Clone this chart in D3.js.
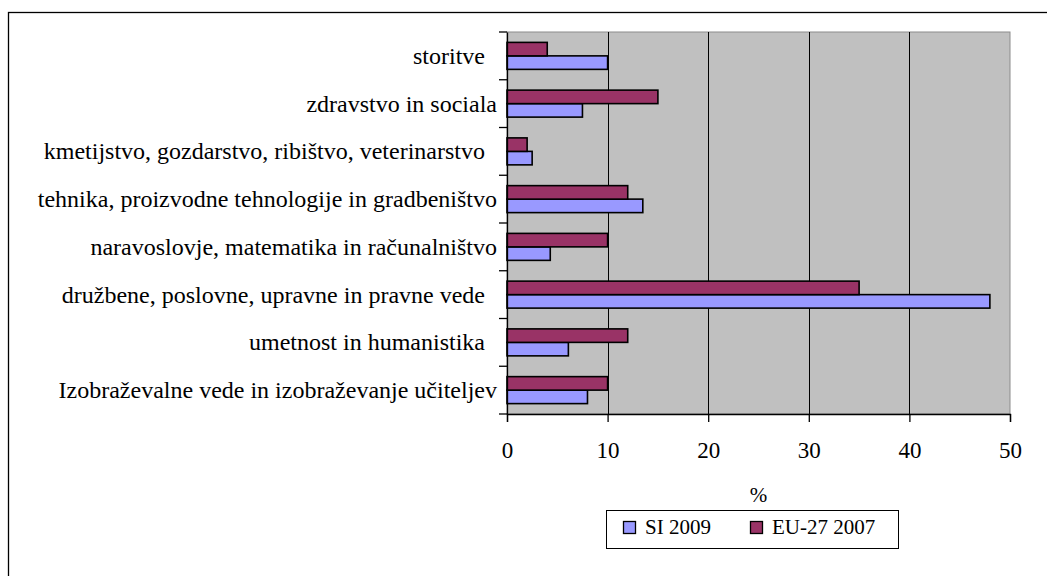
<!DOCTYPE html>
<html>
<head>
<meta charset="utf-8">
<script src="https://cdn.jsdelivr.net/npm/d3@7"></script>
<style>
  html, body { margin: 0; padding: 0; background: #fff; }
  svg { display: block; }
</style>
</head>
<body>
<svg id="chart" width="1047" height="576"></svg>
<script>
// Study fields (top to bottom as drawn)
const categories = [
  "storitve  ",
  "zdravstvo in sociala",
  "kmetijstvo, gozdarstvo, ribištvo, veterinarstvo  ",
  "tehnika, proizvodne tehnologije in gradbeništvo",
  "naravoslovje, matematika in računalništvo",
  "družbene, poslovne, upravne in pravne vede  ",
  "umetnost in humanistika  ",
  "Izobraževalne vede in izobraževanje učiteljev"
];
// Share of graduates by field, %
const si2009 = [10, 7.5, 2.5, 13.5, 4.3, 48, 6.1, 8];
const eu2007 = [4, 15, 2, 12, 10, 35, 12, 10];
const seriesNames = ["SI 2009", "EU-27 2007"];
const seriesColors = ["#9999FF", "#993366"];
const xTicks = [0, 10, 20, 30, 40, 50];
const axisTitle = "%";

const FONT = '"Liberation Serif"';
const svg = d3.select("#chart");
const plot = { left: 507, right: 1010, top: 32, bottom: 414 };

// outer frame of the chart object
svg.append("rect")
  .attr("x", 8.5).attr("y", 12.5)
  .attr("width", 1100).attr("height", 700)
  .attr("fill", "#fff").attr("stroke", "#000").attr("stroke-width", 1.3);

const x = d3.scaleLinear().domain([0, 50]).range([plot.left, plot.right]);
const y = d3.scaleBand().domain(categories).range([plot.top, plot.bottom]).padding(0);
// EU bar above SI bar inside each band
const ySub = d3.scaleBand().domain([1, 0]).range([0, y.bandwidth()])
  .paddingInner(0).paddingOuter(0.77);

// plot background
svg.append("rect")
  .attr("x", plot.left).attr("y", plot.top)
  .attr("width", plot.right - plot.left).attr("height", plot.bottom - plot.top)
  .attr("fill", "#C0C0C0").attr("stroke", "#8c8c8c").attr("stroke-width", 1);

// vertical gridlines
svg.append("g").selectAll("line")
  .data(xTicks.filter(t => t > 0 && t < 50))
  .join("line")
  .attr("x1", d => Math.round(x(d)) + 0.5).attr("x2", d => Math.round(x(d)) + 0.5)
  .attr("y1", plot.top).attr("y2", plot.bottom)
  .attr("stroke", "#000").attr("stroke-width", 1);

// bars
const groups = svg.append("g").selectAll("g")
  .data(categories.map((c, i) => ({ c, vals: [si2009[i], eu2007[i]] })))
  .join("g")
  .attr("transform", d => `translate(0,${y(d.c)})`);

groups.selectAll("rect")
  .data(d => d.vals.map((v, s) => ({ v, s })))
  .join("rect")
  .attr("x", x(0))
  .attr("y", d => ySub(d.s))
  .attr("width", d => x(d.v) - x(0))
  .attr("height", ySub.bandwidth())
  .attr("fill", d => seriesColors[d.s])
  .attr("stroke", "#000").attr("stroke-width", 1.6);

// category axis
const yAxis = svg.append("g")
  .attr("transform", `translate(${plot.left},0)`)
  .call(d3.axisLeft(y).tickSize(0).tickFormat(d => d));
yAxis.select(".domain").attr("stroke", "#000").attr("stroke-width", 1.3);
yAxis.selectAll("text")
  .style("font-family", FONT)
  .style("font-size", "24px")
  .style("white-space", "pre")
  .attr("fill", "#000")
  .attr("x", -10).attr("dy", "0.33em");
// category tick marks at band boundaries
svg.append("g").selectAll("line")
  .data(categories.map(c => y(c)).concat([plot.bottom]))
  .join("line")
  .attr("x1", plot.left - 8).attr("x2", plot.left)
  .attr("y1", d => d).attr("y2", d => d)
  .attr("stroke", "#000").attr("stroke-width", 1.3);

// value axis
const xAxis = svg.append("g")
  .attr("transform", `translate(0,${plot.bottom})`)
  .call(d3.axisBottom(x).tickValues(xTicks).tickSize(8).tickFormat(d3.format("d")));
xAxis.select(".domain").attr("stroke", "#000").attr("stroke-width", 1.3);
xAxis.selectAll("line").attr("stroke", "#000").attr("stroke-width", 1.3);
xAxis.selectAll("text")
  .style("font-family", FONT)
  .style("font-size", "23px")
  .attr("fill", "#000")
  .attr("y", 44).attr("dy", 0);

// axis title
svg.append("text")
  .attr("x", (plot.left + plot.right) / 2).attr("y", 502)
  .attr("text-anchor", "middle")
  .style("font-family", FONT)
  .style("font-size", "21px")
  .text(axisTitle);

// legend
const legend = svg.append("g");
legend.append("rect")
  .attr("x", 606.5).attr("y", 510.5).attr("width", 292).attr("height", 38)
  .attr("fill", "#fff").attr("stroke", "#000").attr("stroke-width", 1);
const legendX = [623, 750];
seriesNames.forEach((name, i) => {
  legend.append("rect")
    .attr("x", legendX[i] + 0.5).attr("y", 521.5).attr("width", 12).attr("height", 12)
    .attr("fill", seriesColors[i]).attr("stroke", "#000").attr("stroke-width", 1.3);
  legend.append("text")
    .attr("x", legendX[i] + 22).attr("y", 534)
    .style("font-family", FONT)
    .style("font-size", "21px")
    .text(name);
});
</script>
</body>
</html>
